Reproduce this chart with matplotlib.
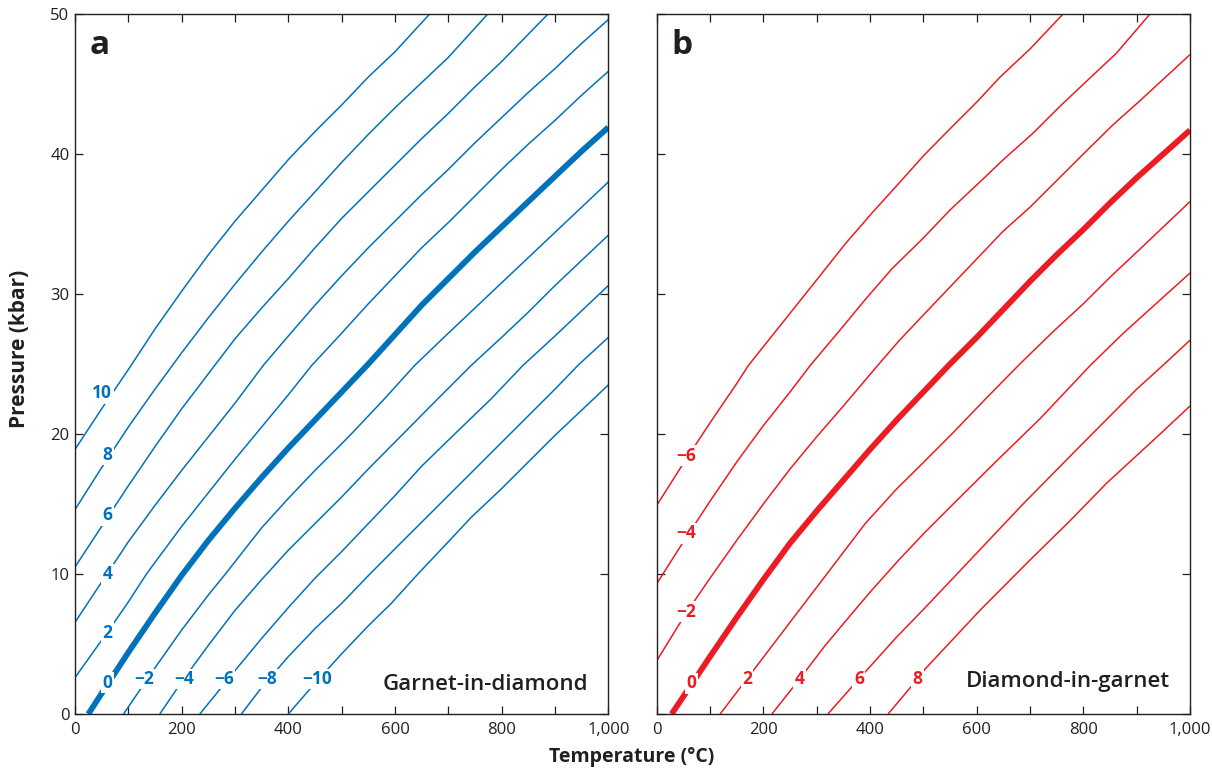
import matplotlib
matplotlib.use('Agg')
import matplotlib.pyplot as plt
from matplotlib.ticker import MultipleLocator, FuncFormatter

plt.rcParams['font.family'] = ['Open Sans', 'DejaVu Sans']

# ---------------- Panel a : Garnet-in-diamond (T in degC, P in kbar) ----------------
a_p10_T = [0, 50, 100, 150, 200, 250, 300, 350, 400, 450, 500, 550, 600, 665]
a_p10_P = [18.9, 21.8, 24.6, 27.5, 30.2, 32.8, 35.2, 37.4, 39.6, 41.6, 43.5, 45.5, 47.3, 50.0]
a_p8_T = [0, 50, 100, 150, 200, 250, 300, 350, 400, 450, 500, 550, 600, 650, 700, 774]
a_p8_P = [14.6, 17.6, 20.5, 23.2, 25.8, 28.3, 30.7, 33.0, 35.2, 37.3, 39.4, 41.4, 43.3, 45.1, 46.9, 50.0]
a_p6_T = [0, 50, 100, 150, 200, 262, 300, 350, 400, 450, 500, 550, 600, 650, 700, 750, 800, 887]
a_p6_P = [10.5, 13.4, 16.3, 19.1, 21.8, 24.9, 26.8, 29.0, 31.1, 33.3, 35.4, 37.3, 39.2, 41.1, 42.9, 44.8, 46.6, 50.0]
a_p4_T = [0, 60, 100, 150, 200, 250, 300, 353, 400, 450, 500, 550, 600, 650, 700, 750, 800, 850, 900, 950, 1000]
a_p4_P = [6.55, 10.0, 12.3, 14.9, 17.4, 19.8, 22.2, 24.9, 27.0, 29.2, 31.3, 33.3, 35.2, 37.1, 38.9, 40.8, 42.6, 44.4, 46.1, 47.9, 49.6]
a_p2_T = [0, 60, 100, 134, 200, 250, 300, 350, 400, 444, 500, 550, 600, 650, 700, 750, 800, 850, 900, 950, 1000]
a_p2_P = [2.6, 5.8, 8.0, 10.0, 13.4, 15.8, 18.2, 20.5, 22.8, 24.9, 27.2, 29.3, 31.3, 33.3, 35.1, 37.0, 38.9, 40.7, 42.4, 44.2, 45.9]
a_0_T = [25, 64, 100, 150, 200, 250, 300, 350, 400, 450, 500, 550, 600, 650, 700, 750, 800, 850, 900, 950, 1000]
a_0_P = [0, 2.3, 4.4, 7.2, 9.9, 12.4, 14.7, 16.9, 19.0, 21.0, 23.0, 25.0, 27.1, 29.2, 31.1, 33.0, 34.8, 36.6, 38.4, 40.2, 41.9]
a_m2_T = [91, 150, 200, 250, 282, 350, 400, 450, 500, 518, 580, 637, 700, 750, 800, 850, 900, 950, 1000]
a_m2_P = [0, 3.3, 6.0, 8.5, 10.0, 13.3, 15.4, 17.4, 19.3, 20.0, 22.5, 24.9, 27.2, 29.0, 30.8, 32.6, 34.4, 36.2, 38.0]
a_m4_T = [159, 200, 250, 300, 350, 400, 450, 500, 550, 615, 680, 743, 800, 850, 900, 950, 1000]
a_m4_P = [0, 2.3, 4.9, 7.4, 9.6, 11.7, 13.6, 15.5, 17.5, 20.0, 22.5, 24.9, 26.9, 28.7, 30.6, 32.4, 34.2]
a_m6_T = [234, 279, 300, 350, 400, 450, 500, 550, 600, 650, 712, 780, 840, 900, 950, 1000]
a_m6_P = [0, 2.1, 3.1, 5.4, 7.6, 9.7, 11.6, 13.6, 15.6, 17.7, 20.0, 22.5, 24.9, 27.0, 28.8, 30.6]
a_m8_T = [312, 350, 400, 450, 500, 553, 600, 650, 700, 750, 800, 850, 900, 943, 1000]
a_m8_P = [0, 1.9, 4.1, 6.1, 7.9, 10.0, 11.8, 13.7, 15.6, 17.5, 19.4, 21.3, 23.2, 24.9, 26.9]
a_m10_T = [400, 450, 500, 550, 593, 643, 700, 743, 800, 850, 900, 950, 1000]
a_m10_P = [0, 2.2, 4.3, 6.3, 7.9, 10.0, 12.3, 14.05, 16.1, 18.0, 19.9, 21.7, 23.5]

a_label_text = ['10', '8', '6', '4', '2', '0', '\u22122', '\u22124', '\u22126', '\u22128', '\u221210']
a_label_T = [51, 61, 61, 61, 61, 61, 129, 204, 279, 361, 454]
a_label_P = [22.9, 18.5, 14.2, 10.0, 5.8, 2.25, 2.5, 2.5, 2.5, 2.5, 2.5]

# ---------------- Panel b : Diamond-in-garnet ----------------
b_m6_T = [0, 50, 100, 150, 172, 216, 260, 304, 354, 404, 454, 501, 550, 600, 644, 700, 762]
b_m6_P = [14.9, 17.9, 20.8, 23.6, 24.9, 27.0, 29.1, 31.2, 33.6, 35.8, 37.9, 39.9, 41.8, 43.7, 45.5, 47.5, 50.0]
b_m4_T = [0, 50, 100, 150, 200, 250, 288, 341, 391, 441, 500, 550, 606, 650, 706, 756, 806, 862, 925]
b_m4_P = [9.3, 12.3, 15.2, 18.0, 20.6, 23.0, 24.9, 27.3, 29.6, 31.8, 34.0, 36.0, 38.0, 39.6, 41.5, 43.4, 45.2, 47.2, 50.0]
b_m2_T = [0, 55, 100, 150, 200, 250, 300, 350, 410, 453, 500, 550, 600, 650, 700, 750, 800, 856, 906, 1000]
b_m2_P = [3.8, 7.2, 9.7, 12.4, 15.0, 17.5, 19.8, 22.0, 24.7, 26.6, 28.5, 30.5, 32.5, 34.5, 36.2, 38.1, 40.0, 42.1, 43.8, 47.1]
b_0_T = [28, 65, 100, 150, 200, 250, 300, 350, 400, 450, 500, 550, 600, 650, 700, 750, 800, 850, 900, 950, 1000]
b_0_P = [0, 2.1, 4.1, 6.9, 9.6, 12.2, 14.5, 16.7, 18.9, 21.0, 23.0, 25.0, 26.9, 28.9, 30.9, 32.8, 34.6, 36.5, 38.3, 40.0, 41.7]
b_p2_T = [119, 169, 229, 285, 341, 391, 448, 501, 556, 619, 681, 743, 800, 850, 906, 1000]
b_p2_P = [0, 2.5, 5.5, 8.3, 11.1, 13.6, 16.0, 18.0, 20.1, 22.6, 25.0, 27.3, 29.3, 31.2, 33.2, 36.6]
b_p4_T = [216, 268, 316, 360, 400, 454, 501, 556, 638, 719, 813, 875, 1000]
b_p4_P = [0, 2.5, 4.9, 6.9, 8.7, 11.0, 12.9, 15.0, 18.1, 21.1, 24.9, 27.2, 31.5]
b_p6_T = [321, 379, 450, 501, 568, 687, 793, 900, 952, 1000]
b_p6_P = [0, 2.5, 5.5, 7.5, 10.2, 15.0, 19.1, 23.2, 25.0, 26.7]
b_p8_T = [434, 489, 503, 606, 700, 775, 844, 944, 1000]
b_p8_P = [0, 2.5, 3.2, 7.4, 11.0, 13.8, 16.5, 20.0, 22.0]

b_label_text = ['\u22126', '\u22124', '\u22122', '0', '2', '4', '6', '8']
b_label_T = [55, 55, 55, 65, 169, 268, 379, 489]
b_label_P = [18.45, 12.9, 7.3, 2.2, 2.5, 2.5, 2.5, 2.5]

x_ticks = [0, 200, 400, 600, 800, 1000]
y_ticks = [0, 10, 20, 30, 40, 50]

BLUE = '#0072BC'
RED = '#ED1C24'
DARK = '#231F20'

a_lines = [(a_p10_T, a_p10_P, False), (a_p8_T, a_p8_P, False), (a_p6_T, a_p6_P, False),
           (a_p4_T, a_p4_P, False), (a_p2_T, a_p2_P, False), (a_0_T, a_0_P, True),
           (a_m2_T, a_m2_P, False), (a_m4_T, a_m4_P, False), (a_m6_T, a_m6_P, False),
           (a_m8_T, a_m8_P, False), (a_m10_T, a_m10_P, False)]
b_lines = [(b_m6_T, b_m6_P, False), (b_m4_T, b_m4_P, False), (b_m2_T, b_m2_P, False),
           (b_0_T, b_0_P, True), (b_p2_T, b_p2_P, False), (b_p4_T, b_p4_P, False),
           (b_p6_T, b_p6_P, False), (b_p8_T, b_p8_P, False)]

fig = plt.figure(figsize=(12.12, 7.7), dpi=100)
ax_a = fig.add_axes([75 / 1212, 56 / 770, 533.3 / 1212, 700 / 770])
ax_b = fig.add_axes([656.7 / 1212, 56 / 770, 533.3 / 1212, 700 / 770])


def fmt(v, pos):
    v = int(round(v))
    if v % 200 != 0:
        return ''
    return f'{v:,}'


def style(ax, show_y):
    ax.set_xlim(0, 1000)
    ax.set_ylim(0, 50)
    ax.xaxis.set_major_locator(MultipleLocator(100))
    ax.xaxis.set_major_formatter(FuncFormatter(fmt))
    ax.set_yticks(y_ticks)
    ax.tick_params(axis='both', direction='in', length=6, width=0.9, color=DARK,
                   top=True, right=True, labelsize=12, labelcolor=DARK)
    ax.tick_params(axis='x', pad=6)
    ax.tick_params(axis='y', pad=4)
    if not show_y:
        ax.tick_params(axis='y', labelleft=False)
    for s in ax.spines.values():
        s.set_color(DARK)
        s.set_linewidth(1.0)


def draw(ax, lines, color, texts, lt, lp):
    for T, P, thick in lines:
        ax.plot(T, P, color=color, lw=4.2 if thick else 1.1,
                solid_capstyle='butt', solid_joinstyle='round', zorder=2)
    for s, t, p in zip(texts, lt, lp):
        ax.text(t, p, s, color=color, fontsize=12.5, fontweight='bold',
                ha='center', va='center', zorder=4,
                bbox=dict(boxstyle='square,pad=0.08', fc='white', ec='none'))


style(ax_a, True)
style(ax_b, False)
draw(ax_a, a_lines, BLUE, a_label_text, a_label_T, a_label_P)
draw(ax_b, b_lines, RED, b_label_text, b_label_T, b_label_P)

ax_a.text(0.028, 0.955, 'a', transform=ax_a.transAxes, fontsize=24, fontweight='bold',
          color=DARK, ha='left', va='center')
ax_b.text(0.028, 0.955, 'b', transform=ax_b.transAxes, fontsize=24, fontweight='bold',
          color=DARK, ha='left', va='center')
ax_a.text(0.962, 0.042, 'Garnet-in-diamond', transform=ax_a.transAxes, fontsize=16,
          fontweight='semibold', color=DARK, ha='right', va='center')
ax_b.text(0.962, 0.046, 'Diamond-in-garnet', transform=ax_b.transAxes, fontsize=16,
          fontweight='semibold', color=DARK, ha='right', va='center')

fig.text(632 / 1212, 1 - 757 / 770, 'Temperature (\u00b0C)', fontsize=14, fontweight='bold',
         color=DARK, ha='center', va='center')
fig.text(20 / 1212, 1 - 349 / 770, 'Pressure (kbar)', fontsize=15, fontweight='bold',
         color=DARK, ha='center', va='center', rotation=90)

fig.savefig('out.png', dpi=100, facecolor='white')
